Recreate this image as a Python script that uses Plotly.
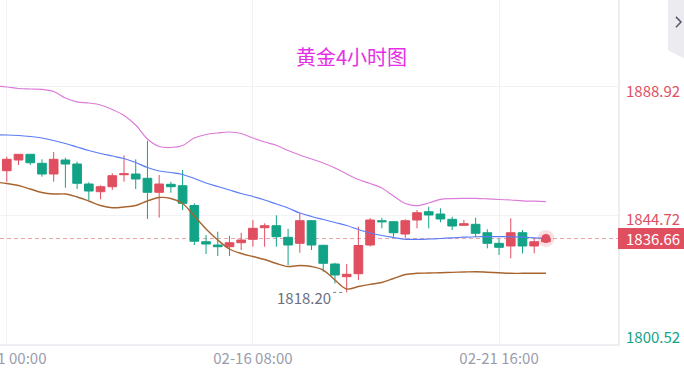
import plotly.graph_objects as go

# ---- data ----
title_text = "黄金4小时图"
tick_idx = [0, 21, 42]
tick_labels = ["02-11 00:00", "02-16 08:00", "02-21 16:00"]
y_levels = [1888.92, 1844.72, 1800.52]
last_price = 1836.66
low_price = 1818.20
low_idx = 29

candle_idx = list(range(47))
opens = [1859.90, 1863.57, 1865.52, 1862.44, 1858.77, 1863.57, 1862.20, 1855.34, 1852.70, 1854.42,
         1858.53, 1858.77, 1857.30, 1852.50, 1855.24, 1854.76, 1847.98, 1835.57, 1834.44, 1833.86,
         1835.23, 1836.39, 1840.37, 1841.05, 1837.08, 1835.02, 1842.77, 1834.34, 1827.93, 1823.58,
         1824.60, 1834.44, 1842.77, 1842.42, 1838.21, 1843.01, 1845.85, 1845.06, 1843.25, 1841.19,
         1841.53, 1838.65, 1835.02, 1834.10, 1838.65, 1834.10, 1835.57]
highs = [1864.70, 1865.60, 1865.60, 1863.81, 1866.31, 1864.36, 1862.99, 1855.93, 1854.90, 1859.01,
         1865.18, 1863.81, 1870.18, 1858.43, 1856.13, 1860.14, 1848.73, 1837.87, 1839.00, 1837.63,
         1838.65, 1843.01, 1841.88, 1844.62, 1840.02, 1845.51, 1843.01, 1834.50, 1828.37, 1827.93,
         1840.71, 1843.69, 1843.79, 1842.60, 1843.25, 1846.43, 1847.56, 1847.02, 1844.14, 1843.01,
         1843.79, 1839.82, 1836.74, 1843.59, 1839.58, 1836.74, 1836.90]
lows = [1856.13, 1861.86, 1861.86, 1857.85, 1856.13, 1854.08, 1853.63, 1849.86, 1850.10, 1853.29,
        1856.13, 1853.63, 1843.35, 1843.79, 1852.36, 1846.43, 1834.44, 1831.36, 1830.67, 1830.67,
        1832.73, 1833.86, 1833.86, 1833.86, 1827.59, 1831.80, 1832.73, 1825.29, 1821.31, 1818.20,
        1822.44, 1833.93, 1840.16, 1837.28, 1836.74, 1840.16, 1840.16, 1842.22, 1839.58, 1841.19,
        1837.08, 1833.31, 1831.01, 1829.88, 1831.59, 1831.59, 1835.40]
closes = [1863.81, 1865.52, 1862.64, 1858.77, 1863.81, 1862.20, 1855.58, 1852.94, 1854.42, 1858.19,
          1858.87, 1857.06, 1852.50, 1855.34, 1854.42, 1848.73, 1835.74, 1834.78, 1833.86, 1835.23,
          1836.15, 1840.16, 1841.05, 1837.28, 1834.44, 1842.77, 1834.44, 1828.17, 1824.16, 1824.40,
          1834.27, 1843.01, 1842.42, 1838.65, 1842.77, 1845.51, 1844.72, 1843.35, 1840.95, 1841.74,
          1838.45, 1835.02, 1833.65, 1838.65, 1834.10, 1835.57, 1836.66]

band_idx = list(range(-1, 47))
boll_upper = [1888.93, 1888.59, 1888.07, 1887.90, 1887.80, 1887.04, 1884.82, 1883.51, 1883.10, 1882.42,
              1880.87, 1878.82, 1875.56, 1870.77, 1868.19, 1867.85, 1868.54, 1871.11, 1872.31, 1872.82,
              1873.16, 1872.65, 1871.11, 1869.74, 1868.64, 1866.82, 1865.28, 1863.91, 1862.54, 1860.83,
              1858.77, 1856.89, 1855.52, 1853.97, 1851.23, 1848.66, 1847.91, 1848.83, 1850.10, 1850.37,
              1850.44, 1850.44, 1850.27, 1850.03, 1849.86, 1849.59, 1849.45, 1849.28]
boll_mid = [1872.20, 1872.14, 1871.96, 1871.62, 1871.11, 1870.25, 1869.22, 1868.02, 1866.82, 1865.80,
            1864.94, 1864.08, 1862.71, 1861.00, 1859.80, 1859.28, 1858.60, 1857.23, 1855.69, 1854.49,
            1853.29, 1852.09, 1851.06, 1849.86, 1848.49, 1847.12, 1845.41, 1844.21, 1843.18, 1842.15,
            1841.12, 1839.75, 1838.55, 1837.69, 1837.01, 1836.39, 1836.39, 1836.50, 1836.67, 1836.91,
            1837.11, 1837.28, 1837.32, 1837.32, 1837.25, 1837.11, 1836.91, 1836.74]
boll_lower = [1856.03, 1855.52, 1854.83, 1853.63, 1852.43, 1851.92, 1851.92, 1850.89, 1849.52, 1847.98,
              1847.22, 1847.46, 1847.98, 1849.52, 1850.72, 1850.37, 1848.66, 1844.38, 1839.92, 1836.15,
              1833.07, 1831.53, 1830.50, 1829.47, 1828.10, 1827.07, 1827.41, 1827.07, 1825.87, 1822.44,
              1819.36, 1820.22, 1820.97, 1821.59, 1822.96, 1824.33, 1824.74, 1824.84, 1824.95, 1825.08,
              1825.19, 1825.29, 1825.12, 1824.91, 1824.74, 1824.74, 1824.74, 1824.74]

# ---- styles ----
RED = "#e04f5f"
GREEN = "#12a386"
FONT = "Noto Sans CJK SC, Noto Sans, sans-serif"
GRID = "#f2f2f5"

fig = go.Figure()

fig.add_trace(go.Scatter(x=band_idx, y=boll_upper, mode="lines",
                         line=dict(color="#dc7cd8", width=1.2, shape="spline"), hoverinfo="skip"))
fig.add_trace(go.Scatter(x=band_idx, y=boll_mid, mode="lines",
                         line=dict(color="#5b7cf5", width=1.2, shape="spline"), hoverinfo="skip"))
fig.add_trace(go.Scatter(x=band_idx, y=boll_lower, mode="lines",
                         line=dict(color="#a8642f", width=1.4, shape="spline"), hoverinfo="skip"))

fig.add_trace(go.Candlestick(
    x=candle_idx, open=opens, high=highs, low=lows, close=closes,
    increasing=dict(line=dict(color=RED, width=1), fillcolor=RED),
    decreasing=dict(line=dict(color=GREEN, width=1), fillcolor=GREEN),
    whiskerwidth=0, hoverinfo="skip"))

# current price dot with halo
fig.add_trace(go.Scatter(x=[candle_idx[-1]], y=[last_price], mode="markers",
                         marker=dict(size=17, color="rgba(224,79,95,0.18)"), hoverinfo="skip"))
fig.add_trace(go.Scatter(x=[candle_idx[-1]], y=[last_price], mode="markers",
                         marker=dict(size=9, color=RED), hoverinfo="skip"))

shapes = []
# last price dashed line
shapes.append(dict(type="line", xref="paper", x0=0, x1=1, yref="y", y0=last_price, y1=last_price,
                   line=dict(color="#eba3ab", width=1, dash="4px,3px"), layer="below"))
# last price box on the axis
shapes.append(dict(type="rect", xref="paper", x0=1.0, x1=1.11, yref="y",
                   y0=last_price - 3.6, y1=last_price + 3.6,
                   fillcolor=RED, line=dict(width=0)))
# low marker leader dots
shapes.append(dict(type="line", xref="x", x0=low_idx - 1.15, x1=low_idx - 0.15, yref="y",
                   y0=low_price, y1=low_price, line=dict(color="#7a7d8c", width=1, dash="dot")))
# top-right tab
shapes.append(dict(type="path", xref="paper", yref="paper",
                   path="M 1.0809 1 L 1.107 1 L 1.107 0.83 L 1.0809 0.855 Z",
                   fillcolor="#ececf0", line=dict(width=0)))
shapes.append(dict(type="path", xref="paper", yref="paper",
                   path="M 1.0938 0.951 L 1.1019 0.936 L 1.0938 0.921",
                   line=dict(color="#535769", width=1.5)))

annotations = []
annotations.append(dict(text=title_text, xref="paper", yref="paper", x=351 / 618, y=0.837,
                        xanchor="center", yanchor="middle",
                        showarrow=False, font=dict(family=FONT, size=20, color="#e62ee6")))
label_colors = [RED, RED, GREEN]
label_shift = [-4, -3, 8]
for v, c, s in zip(y_levels, label_colors, label_shift):
    annotations.append(dict(text=f"{v:.2f}", xref="paper", yref="y", x=1, y=v, xanchor="left",
                            xshift=6, yshift=s, yanchor="middle", showarrow=False,
                            font=dict(family=FONT, size=15, color=c)))
annotations.append(dict(text=f"{last_price:.2f}", xref="paper", yref="y", x=1, y=last_price,
                        xanchor="left", xshift=6, yanchor="middle", showarrow=False,
                        font=dict(family=FONT, size=15, color="white")))
annotations.append(dict(text=f"{low_price:.2f}", xref="x", yref="y", x=low_idx - 1.2, y=low_price,
                        xanchor="right", yanchor="middle", yshift=-5, showarrow=False,
                        font=dict(family=FONT, size=15, color="#6c6f80")))

fig.update_layout(
    width=684, height=372,
    margin=dict(l=0, r=66, t=0, b=28),
    paper_bgcolor="white", plot_bgcolor="white",
    showlegend=False, boxgap=0.26, boxgroupgap=0,
    shapes=shapes, annotations=annotations,
    xaxis=dict(range=[-0.58, 52.15], tickvals=tick_idx, ticktext=tick_labels,
               showgrid=True, gridcolor=GRID, gridwidth=1, zeroline=False,
               showline=True, linecolor="#eeeef2", linewidth=1.5, ticks="",
               ticklabeloverflow="allow",
               tickfont=dict(family=FONT, size=15, color="#9a9cab"),
               rangeslider=dict(visible=False), automargin=False, fixedrange=True),
    yaxis=dict(range=[1800.52, 1918.40], side="right", tickvals=y_levels, showticklabels=False,
               showgrid=True, gridcolor=GRID, gridwidth=1, zeroline=False,
               showline=True, linecolor="#eeeef2", linewidth=1.5, ticks="",
               automargin=False, fixedrange=True),
)

fig.write_html("out.html")
